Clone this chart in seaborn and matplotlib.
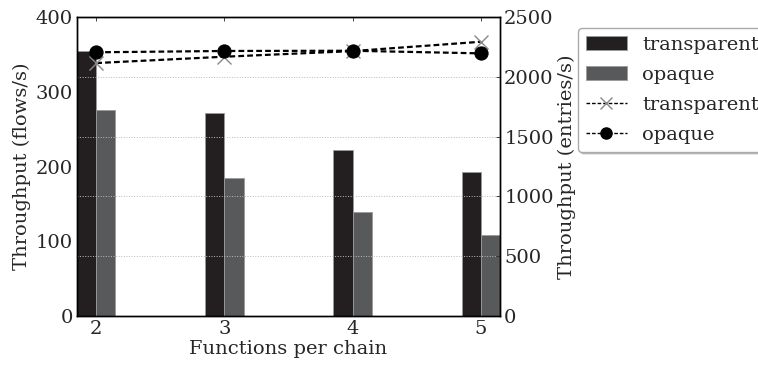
import pandas as pd
import matplotlib
matplotlib.use('Agg')
import matplotlib.pyplot as plt
import seaborn as sns
from matplotlib.patches import Patch
from matplotlib.lines import Line2D

# data
functions = [2, 3, 4, 5]
flows_transparent = [354, 271, 222, 192]
flows_opaque = [275, 184, 139, 109]
entries_transparent = [2115, 2168, 2215, 2293]
entries_opaque = [2205, 2216, 2218, 2196]
modes = ['transparent', 'opaque']

bar_colors = {'transparent': '#231f20', 'opaque': '#58595b'}
dash = (0, (2.6, 1.4))

sns.set_theme(style='ticks')
plt.rcParams['font.family'] = ['DejaVu Serif']
plt.rcParams['xtick.direction'] = 'in'
plt.rcParams['ytick.direction'] = 'in'
plt.rcParams['xtick.top'] = True

bars = pd.DataFrame({
    'functions': functions * 2,
    'flows': flows_transparent + flows_opaque,
    'mode': ['transparent'] * 4 + ['opaque'] * 4,
})

fig, ax = plt.subplots(figsize=(7.58, 3.65), dpi=100)
fig.subplots_adjust(left=0.1016, right=0.6596, top=0.9534, bottom=0.1342)

sns.barplot(data=bars, x='functions', y='flows', hue='mode', hue_order=modes,
            palette=bar_colors, native_scale=True, width=0.3, saturation=1,
            errorbar=None, edgecolor='#9a9a9a', linewidth=0.6, ax=ax)
ax.get_legend().remove()
ax.set_xlim(1.85, 5.15)
ax.set_ylim(0, 400)
ax.set_xticks(functions)
ax.set_xticklabels([str(f) for f in functions])
ax.set_yticks([0, 100, 200, 300, 400])
ax.set_xlabel('Functions per chain', fontsize=14, labelpad=1)
ax.set_ylabel('Throughput (flows/s)', fontsize=14, labelpad=3)
ax.tick_params(labelsize=14, length=3, width=0.6, pad=3)

ax2 = ax.twinx()
sns.lineplot(x=functions, y=entries_transparent, ax=ax2, color='black',
             linestyle=dash, linewidth=1.6, marker='x', markersize=10,
             markeredgecolor='#888888', markeredgewidth=1.0)
sns.lineplot(x=functions, y=entries_opaque, ax=ax2, color='black',
             linestyle=dash, linewidth=1.6, marker='o', markersize=9.5,
             markeredgecolor='black')
ax2.set_ylim(0, 2500)
ax2.set_yticks([0, 500, 1000, 1500, 2000, 2500])
ax2.set_ylabel('Throughput (entries/s)', fontsize=14, labelpad=3)
ax2.tick_params(labelsize=14, length=3, width=0.6, pad=3)
ax2.grid(axis='y', linestyle=':', color='#bbbbbb', linewidth=0.7)
ax2.set_xlim(1.85, 5.15)

for a in (ax, ax2):
    for s in a.spines.values():
        s.set_linewidth(1.0)
        s.set_color('black')

handles = [
    Patch(facecolor=bar_colors['transparent'], edgecolor='#9a9a9a', linewidth=0.6),
    Patch(facecolor=bar_colors['opaque'], edgecolor='#9a9a9a', linewidth=0.6),
    Line2D([], [], color='black', linestyle=dash, linewidth=1.0, marker='x',
           markersize=8, markeredgecolor='#888888', markeredgewidth=1.0),
    Line2D([], [], color='black', linestyle=dash, linewidth=1.0, marker='o',
           markersize=8),
]
labels = ['transparent', 'opaque', 'transparent', 'opaque']
ax2.legend(handles, labels, loc='upper left', bbox_to_anchor=(1.185, 0.963),
           fontsize=14, frameon=True, fancybox=True,
           shadow={'ox': 1.5, 'oy': -1.5, 'alpha': 0.25},
           framealpha=1, edgecolor='#aaaaaa', handlelength=2.1,
           labelspacing=0.62, borderaxespad=0)

fig.savefig('out.png', dpi=100)
